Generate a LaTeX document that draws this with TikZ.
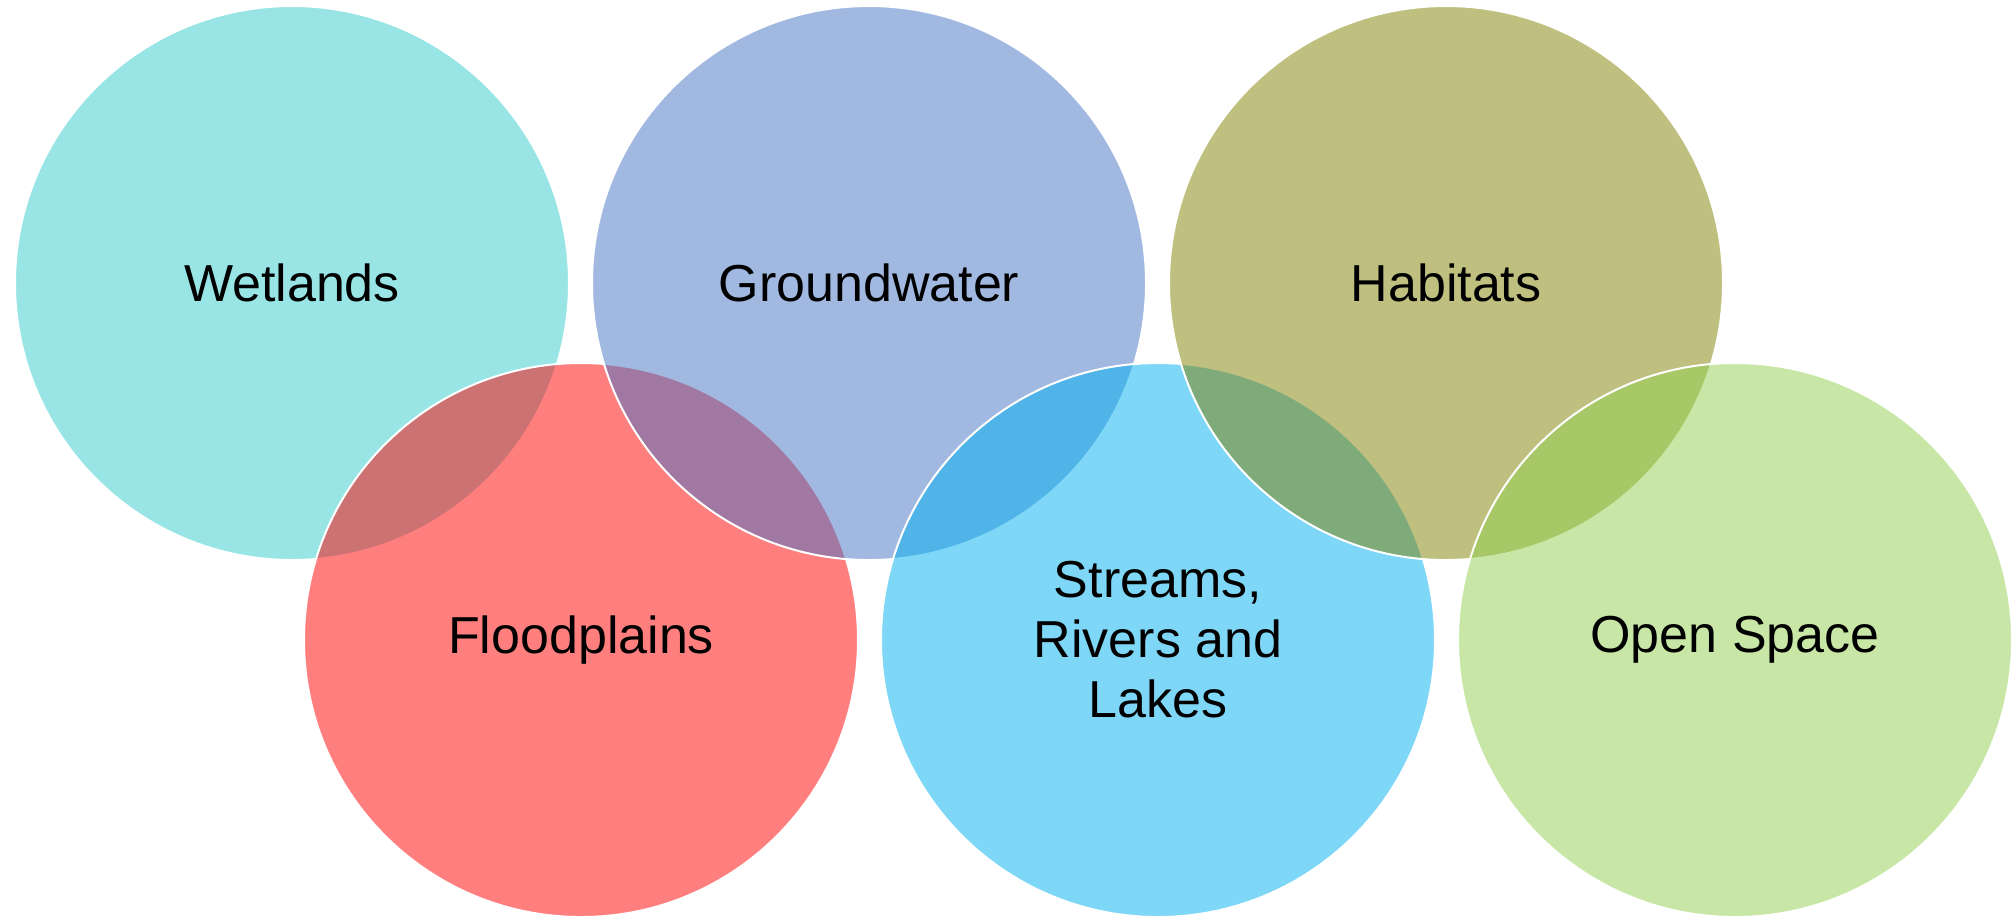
\documentclass[tikz,border=0pt]{standalone}
\usepackage{fontspec}
\setmainfont{Liberation Sans}
\definecolor{wetlandcol}{HTML}{33CCCC}
\definecolor{groundcol}{HTML}{4472C4}
\definecolor{habitatcol}{HTML}{808000}
\definecolor{floodcol}{HTML}{FF0000}
\definecolor{streamcol}{HTML}{00B0F0}
\definecolor{opencol}{HTML}{92D050}
\begin{document}
\begin{tikzpicture}[x=0.5pt,y=-0.5pt,
  area/.style={circle,draw=white,line width=1pt,fill opacity=0.5,text opacity=1,
    minimum size=277pt,inner sep=0pt,align=center,
    font=\fontsize{26pt}{30pt}\selectfont}]
\useasboundingbox (0,0) rectangle (2011,918);

% Circles, each one laid over the one before
\node[area,fill=wetlandcol] (wetlands) at (292,283) {Wetlands};
\node[area,fill=floodcol] (floodplains) at (581,640) {Floodplains};
\node[area,fill=groundcol] (groundwater) at (869,283) {Groundwater};
\node[area,fill=streamcol] (streams) at (1158,640) {Streams,\\Rivers and\\Lakes};
\node[area,fill=habitatcol] (habitats) at (1446,283) {Habitats};
\node[area,fill=opencol] (openspace) at (1735,640) {Open Space};
\end{tikzpicture}
\end{document}
